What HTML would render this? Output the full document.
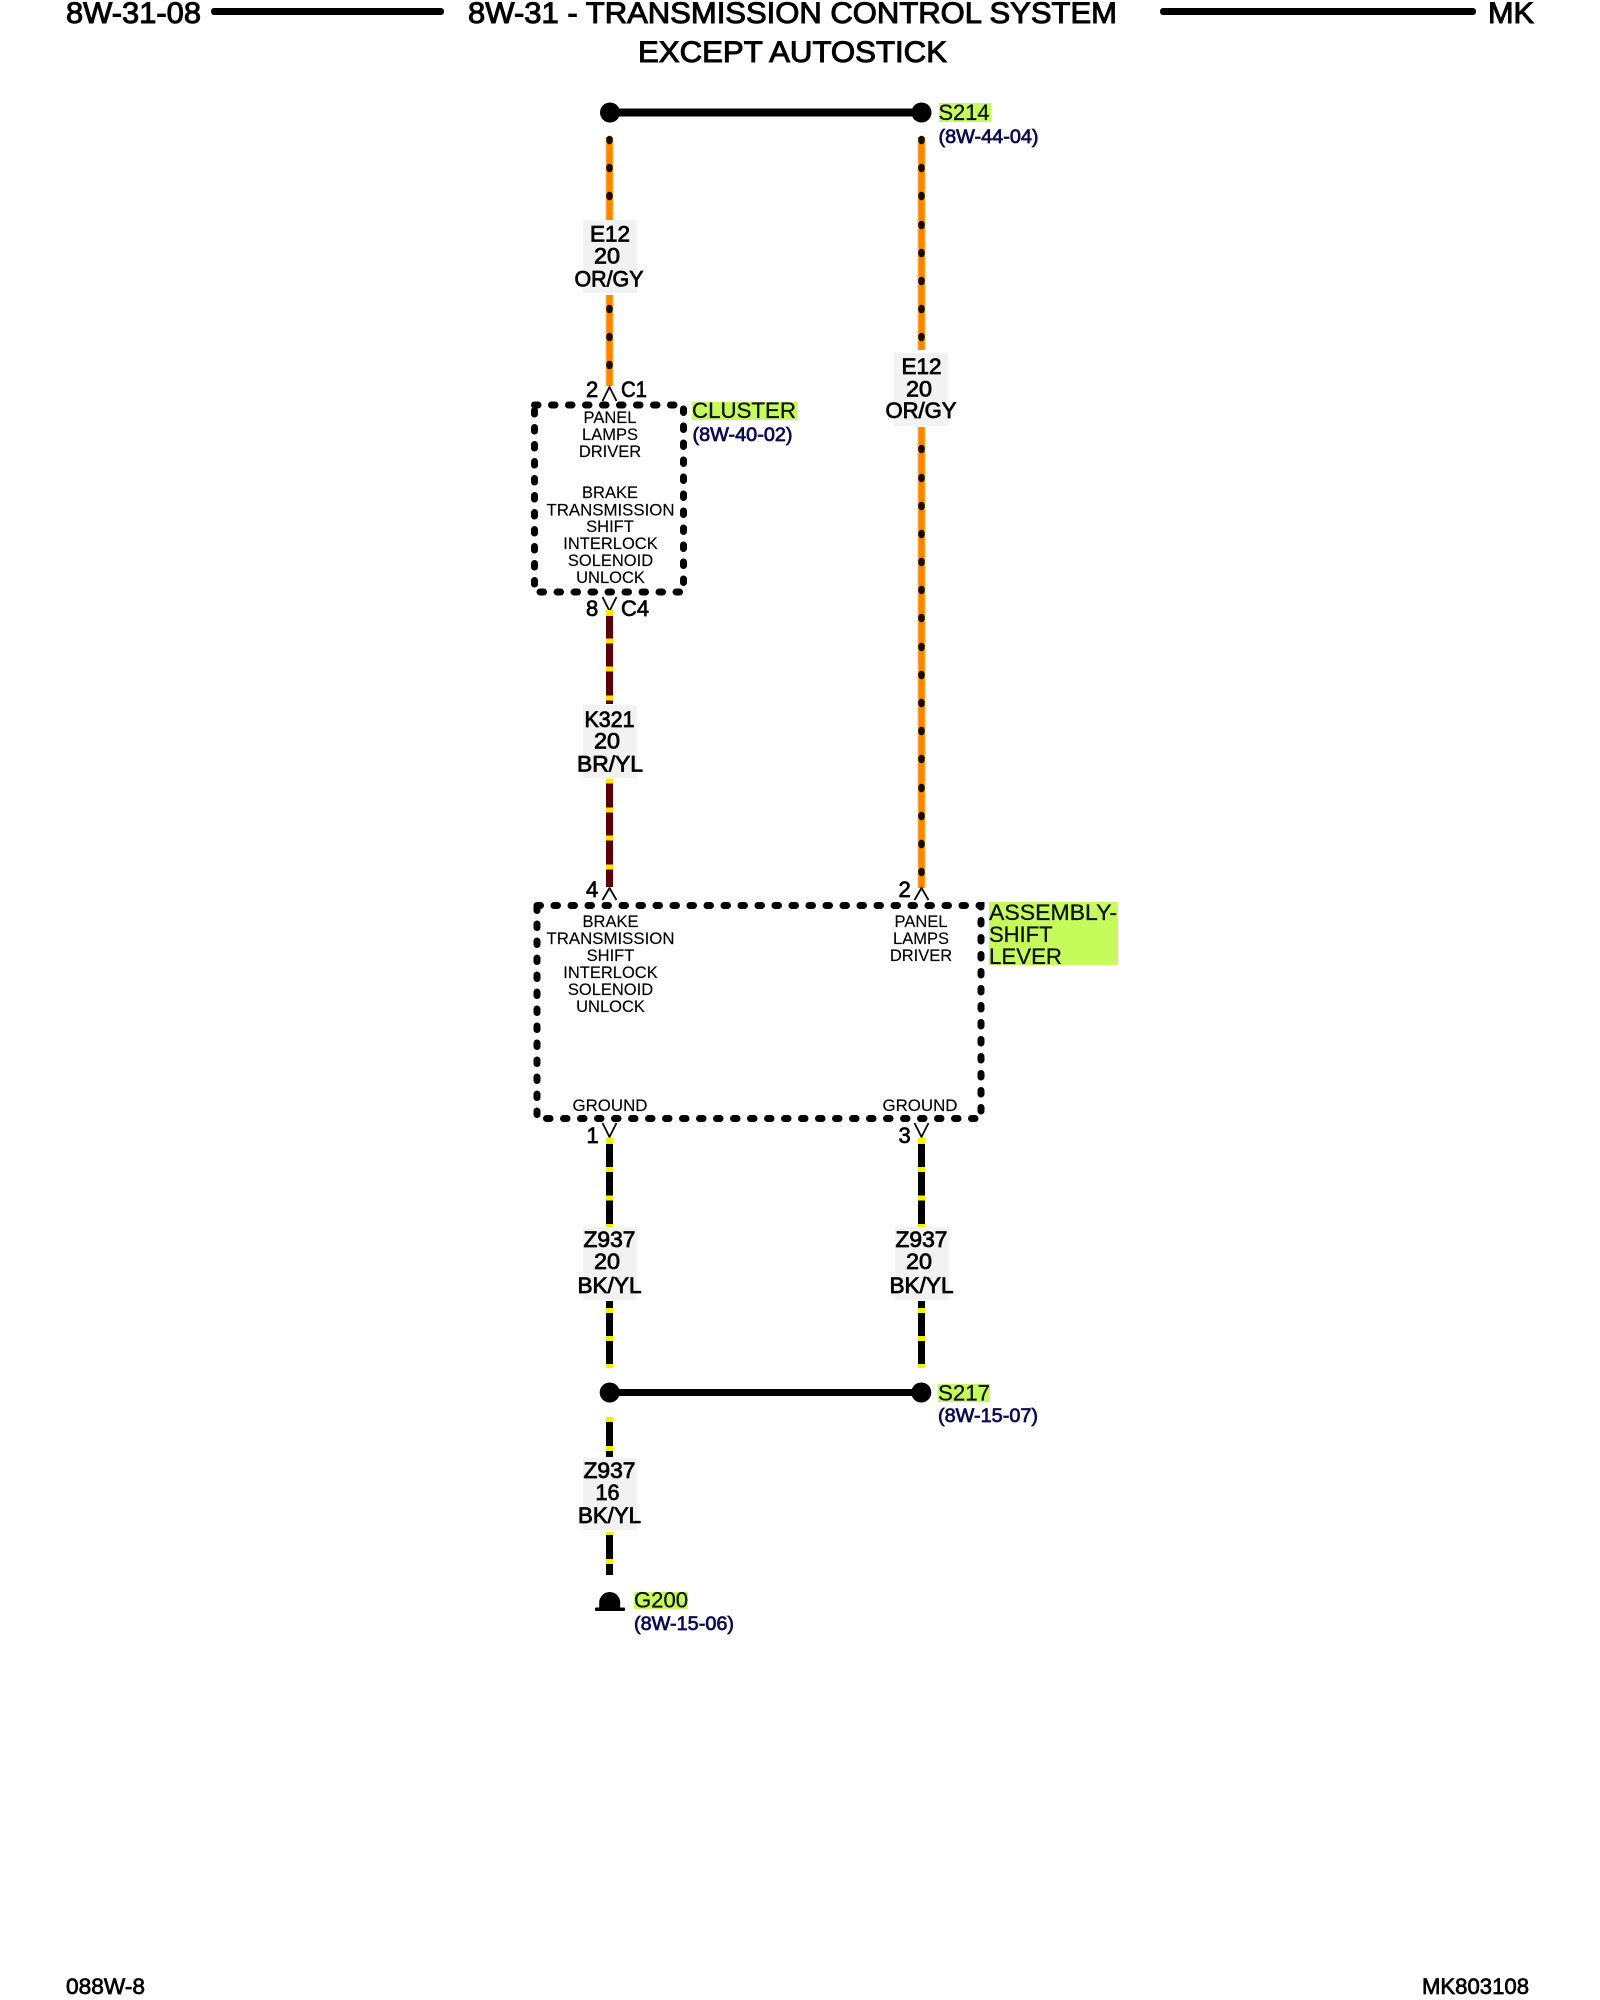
<!DOCTYPE html>
<html><head><meta charset="utf-8"><style>
html,body{margin:0;padding:0;background:#fff}
svg{display:block;filter:blur(.35px)}
text{font-family:"Liberation Sans",sans-serif;fill:#000}
.h{font-size:30px;stroke:#000;stroke-width:1}
.w{font-size:22px;text-anchor:middle;stroke:#000;stroke-width:.8}
.n{font-size:22px;stroke:#000;stroke-width:.7}
.s{font-size:16.5px;text-anchor:middle;stroke:#000;stroke-width:.15}
.l{font-size:22px;fill:#111;stroke:#111;stroke-width:.3}
.r{font-size:19px;fill:#0a0a50;stroke:#0a0a50;stroke-width:.7}
.f{font-size:22px;stroke:#000;stroke-width:.7}
.bg{fill:#f2f2f2}
.hl{fill:#c6fb5c}
.box{fill:none;stroke:#000;stroke-width:7;stroke-dasharray:3.5 13.5;stroke-linecap:round}
.c{fill:none;stroke:#000;stroke-width:1.8}
</style></head><body>
<svg width="1600" height="2000" viewBox="0 0 1600 2000" xmlns="http://www.w3.org/2000/svg">
<rect width="1600" height="2000" fill="#fff"/>

<!-- header -->
<text class="h" x="66" y="23" textLength="135" lengthAdjust="spacingAndGlyphs">8W-31-08</text>
<rect x="211" y="8" width="233" height="7" rx="3" fill="#000"/>
<text class="h" x="468" y="23" textLength="649" lengthAdjust="spacingAndGlyphs">8W-31 - TRANSMISSION CONTROL SYSTEM</text>
<rect x="1160" y="8" width="316" height="7" rx="3" fill="#000"/>
<text class="h" x="1488" y="23" textLength="46" lengthAdjust="spacingAndGlyphs">MK</text>
<text class="h" x="638" y="62" textLength="309" lengthAdjust="spacingAndGlyphs">EXCEPT AUTOSTICK</text>

<!-- S214 -->
<rect x="610" y="108.5" width="311" height="8" fill="#000"/>
<circle cx="610" cy="112.5" r="10" fill="#000"/>
<circle cx="921.5" cy="112.5" r="10" fill="#000"/>
<rect class="hl" x="939" y="103" width="52" height="19"/>
<text class="l" x="938.5" y="120" textLength="51" lengthAdjust="spacingAndGlyphs">S214</text>
<text class="r" x="938.5" y="143" textLength="100" lengthAdjust="spacingAndGlyphs">(8W-44-04)</text>

<!-- orange wires -->
<g stroke="#ffc850" stroke-width="8" fill="none">
<path d="M609.5 137V220M609.5 295V386M921.5 137V350M921.5 427V888"/>
</g>
<g stroke="#ff8200" stroke-width="6" fill="none">
<path d="M609.5 137V220M609.5 295V386M921.5 137V350M921.5 427V888"/>
</g>
<g stroke="#1a0a00" stroke-width="6.5" fill="none" stroke-linecap="round">
<path d="M609.5 139v2M609.5 167v2M609.5 195v2M609.5 308v2M609.5 336v2M609.5 364v2"/>
<path d="M921.5 139v2M921.5 167v2M921.5 195v2M921.5 224v2M921.5 252v2M921.5 280v2M921.5 308v2M921.5 336v2M921.5 448v2M921.5 477v2M921.5 505v2M921.5 533v2M921.5 561v2M921.5 589v2M921.5 617v2M921.5 646v2M921.5 674v2M921.5 702v2M921.5 730v2M921.5 758v2M921.5 787v2M921.5 815v2M921.5 843v2M921.5 871v2"/>
</g>

<!-- E12 left -->
<rect class="bg" x="583" y="220" width="54" height="73"/>
<text class="w" x="610" y="241.5" textLength="40" lengthAdjust="spacingAndGlyphs">E12</text>
<text class="w" x="607" y="263.5" textLength="26" lengthAdjust="spacingAndGlyphs">20</text>
<text class="w" x="609" y="286.5" textLength="69" lengthAdjust="spacingAndGlyphs">OR/GY</text>

<!-- E12 right -->
<rect class="bg" x="894" y="353" width="54" height="73"/>
<text class="w" x="921.5" y="374" textLength="40" lengthAdjust="spacingAndGlyphs">E12</text>
<text class="w" x="919" y="396.5" textLength="26" lengthAdjust="spacingAndGlyphs">20</text>
<text class="w" x="921" y="418" textLength="71" lengthAdjust="spacingAndGlyphs">OR/GY</text>

<!-- cluster connectors -->
<text class="n" x="586" y="397">2</text>
<text class="n" x="621" y="397" textLength="26" lengthAdjust="spacingAndGlyphs">C1</text>
<path class="c" d="M602.5 401L609.5 387L616.5 401"/>
<text class="n" x="586" y="616">8</text>
<text class="n" x="621" y="616" textLength="28" lengthAdjust="spacingAndGlyphs">C4</text>
<path class="c" d="M602.5 597L609.5 611L616.5 597"/>

<!-- cluster box -->
<rect class="box" x="534.5" y="405" width="149" height="187"/>
<rect class="hl" x="692" y="402" width="105" height="18"/>
<text class="l" x="692" y="418" textLength="104" lengthAdjust="spacingAndGlyphs">CLUSTER</text>
<text class="r" x="692.5" y="441" textLength="100" lengthAdjust="spacingAndGlyphs">(8W-40-02)</text>
<text class="s" x="610" y="423">PANEL</text>
<text class="s" x="610" y="440">LAMPS</text>
<text class="s" x="610" y="457">DRIVER</text>
<text class="s" x="610" y="498">BRAKE</text>
<text class="s" x="610.5" y="515.5" textLength="128" lengthAdjust="spacingAndGlyphs">TRANSMISSION</text>
<text class="s" x="610" y="532">SHIFT</text>
<text class="s" x="610.5" y="549">INTERLOCK</text>
<text class="s" x="610.5" y="566">SOLENOID</text>
<text class="s" x="610.5" y="583">UNLOCK</text>

<!-- K321 wire -->
<g fill="none" stroke-width="7">
<path stroke="#5a000a" d="M609.5 610V704M609.5 779V887"/>
<path stroke="#ffe600" d="M609.5 610v6M609.5 638.5v5M609.5 666.5v5M609.5 695.5v5M609.5 778.5v5M609.5 807.5v5M609.5 835.5v5M609.5 864.5v5"/>
</g>
<rect class="bg" x="583" y="705" width="54" height="73"/>
<text class="w" x="609.5" y="727" textLength="50" lengthAdjust="spacingAndGlyphs">K321</text>
<text class="w" x="607" y="748.5" textLength="26" lengthAdjust="spacingAndGlyphs">20</text>
<text class="w" x="610" y="771.5" textLength="66" lengthAdjust="spacingAndGlyphs">BR/YL</text>

<!-- lever box -->
<text class="n" x="586" y="897">4</text>
<path class="c" d="M602.5 900L609.5 888L616.5 900"/>
<text class="n" x="898.5" y="897">2</text>
<path class="c" d="M914.5 900L921.5 888L928.5 900"/>
<rect class="box" x="537" y="905.5" width="444" height="213"/>
<rect class="hl" x="989" y="902" width="129" height="63"/>
<text class="l" x="989" y="920" textLength="128" lengthAdjust="spacingAndGlyphs">ASSEMBLY-</text>
<text class="l" x="989" y="942">SHIFT</text>
<text class="l" x="989" y="964" textLength="73" lengthAdjust="spacingAndGlyphs">LEVER</text>
<text class="s" x="610.5" y="927">BRAKE</text>
<text class="s" x="610.5" y="944" textLength="128" lengthAdjust="spacingAndGlyphs">TRANSMISSION</text>
<text class="s" x="610.5" y="961">SHIFT</text>
<text class="s" x="610.5" y="978">INTERLOCK</text>
<text class="s" x="610.5" y="995">SOLENOID</text>
<text class="s" x="610.5" y="1012">UNLOCK</text>
<text class="s" x="921" y="927">PANEL</text>
<text class="s" x="921" y="944">LAMPS</text>
<text class="s" x="921" y="961">DRIVER</text>
<text class="s" x="610" y="1111" textLength="75" lengthAdjust="spacingAndGlyphs">GROUND</text>
<text class="s" x="920" y="1111" textLength="75" lengthAdjust="spacingAndGlyphs">GROUND</text>

<!-- ground pins -->
<text class="n" x="586.5" y="1143">1</text>
<path class="c" d="M602.5 1123L609.5 1137L616.5 1123"/>
<text class="n" x="898.5" y="1143">3</text>
<path class="c" d="M914.5 1123L921.5 1137L928.5 1123"/>

<!-- Z937 wires -->
<g fill="none" stroke-width="7">
<path stroke="#000" d="M609.5 1138V1226M609.5 1301V1368M921.5 1138V1226M921.5 1301V1368M609.5 1417V1457M609.5 1532V1575"/>
<path stroke="#f5f000" d="M609.5 1138v6M609.5 1167v5M609.5 1195.5v5M609.5 1224v3M609.5 1308v5M609.5 1336v5M609.5 1364v4M921.5 1138v6M921.5 1167v5M921.5 1195.5v5M921.5 1224v3M921.5 1308v5M921.5 1336v5M921.5 1364v4M609.5 1417v5M609.5 1446v5M609.5 1532v3M609.5 1559v5"/>
</g>
<rect class="bg" x="583" y="1227" width="54" height="73"/>
<text class="w" x="609.5" y="1247" textLength="52" lengthAdjust="spacingAndGlyphs">Z937</text>
<text class="w" x="607" y="1269" textLength="26" lengthAdjust="spacingAndGlyphs">20</text>
<text class="w" x="609.5" y="1293" textLength="64" lengthAdjust="spacingAndGlyphs">BK/YL</text>
<rect class="bg" x="895" y="1227" width="54" height="73"/>
<text class="w" x="921.5" y="1247" textLength="52" lengthAdjust="spacingAndGlyphs">Z937</text>
<text class="w" x="919" y="1269" textLength="26" lengthAdjust="spacingAndGlyphs">20</text>
<text class="w" x="921.5" y="1293" textLength="64" lengthAdjust="spacingAndGlyphs">BK/YL</text>

<!-- S217 -->
<rect x="610" y="1389" width="311" height="7" fill="#000"/>
<circle cx="609.7" cy="1392.5" r="10" fill="#000"/>
<circle cx="921.3" cy="1392.5" r="10" fill="#000"/>
<rect class="hl" x="938" y="1384" width="52" height="18"/>
<text class="l" x="938" y="1400.5" textLength="52" lengthAdjust="spacingAndGlyphs">S217</text>
<text class="r" x="938" y="1422" textLength="100" lengthAdjust="spacingAndGlyphs">(8W-15-07)</text>

<!-- Z937 16 -->
<rect class="bg" x="583" y="1458" width="54" height="72"/>
<text class="w" x="609.5" y="1478" textLength="52" lengthAdjust="spacingAndGlyphs">Z937</text>
<text class="w" x="607.5" y="1500" textLength="24" lengthAdjust="spacingAndGlyphs">16</text>
<text class="w" x="609.5" y="1523" textLength="63" lengthAdjust="spacingAndGlyphs">BK/YL</text>

<!-- G200 -->
<path d="M599.2 1608v-5.5a10.5 10.5 0 0 1 21 0v5.5z" fill="#000"/>
<rect x="595" y="1607.5" width="30" height="3.5" rx="1" fill="#000"/>
<rect class="hl" x="634" y="1592" width="54" height="17"/>
<text class="l" x="634" y="1607.5" textLength="54" lengthAdjust="spacingAndGlyphs">G200</text>
<text class="r" x="634" y="1630" textLength="100" lengthAdjust="spacingAndGlyphs">(8W-15-06)</text>

<!-- footer -->
<text class="f" x="66" y="1994" textLength="79" lengthAdjust="spacingAndGlyphs">088W-8</text>
<text class="f" x="1422" y="1994" textLength="107" lengthAdjust="spacingAndGlyphs">MK803108</text>
</svg>
</body></html>
